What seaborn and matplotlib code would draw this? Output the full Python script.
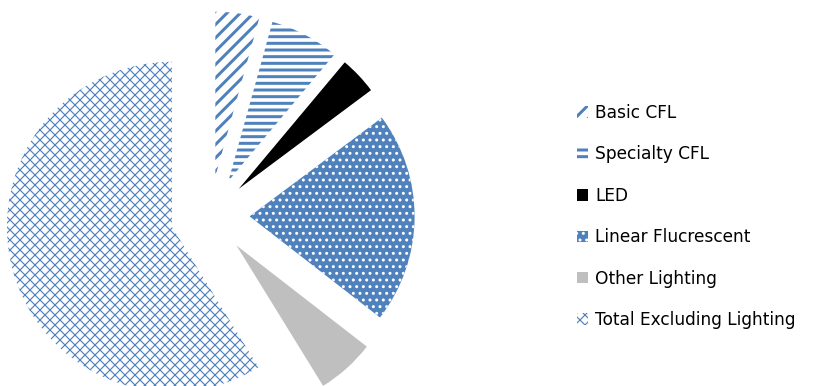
import matplotlib
matplotlib.use('Agg')
import matplotlib.pyplot as plt
import seaborn as sns

categories = ['Basic CFL', 'Specialty CFL', 'LED', 'Linear Flucrescent',
              'Other Lighting', 'Total Excluding Lighting']
shares = [4.3, 6.8, 3.7, 20.7, 5.7, 58.8]

BLUE = '#4F81BD'
GRAY = '#BFBFBF'

sns.set_theme(style='white')
plt.rcParams['font.family'] = ['DejaVu Sans']

W, H, DPI = 815, 386, 120
fig = plt.figure(figsize=(W / DPI, H / DPI), dpi=DPI)
ax = fig.add_axes([0, 0, 1, 1])

R, CX, CY = 165.0, 210.0, 216.0
explode = [0.24] * len(shares)

wedges, _ = ax.pie(shares, explode=explode, startangle=90, counterclock=False,
                   radius=1, wedgeprops=dict(linewidth=0))

styles = [
    dict(facecolor='white', edgecolor=BLUE, hatch='///', hlw=1.8),
    dict(facecolor='white', edgecolor=BLUE, hatch='---', hlw=1.8),
    dict(facecolor='black', edgecolor='black', hatch=None, hlw=1.0),
    dict(facecolor=BLUE, edgecolor='white', hatch='...', hlw=1.0),
    dict(facecolor=GRAY, edgecolor=GRAY, hatch=None, hlw=1.0),
    dict(facecolor='white', edgecolor=BLUE, hatch='xxxx', hlw=0.7),
]
has_hlw = hasattr(wedges[0], 'set_hatch_linewidth')
for w, st in zip(wedges, styles):
    w.set_facecolor(st['facecolor'])
    w.set_edgecolor(st['edgecolor'])
    w.set_linewidth(0)
    if st['hatch']:
        w.set_hatch(st['hatch'])
    if has_hlw:
        w.set_hatch_linewidth(st['hlw'])

ax.set_xlim(-CX / R, (W - CX) / R)
ax.set_ylim(-(H - CY) / R, CY / R)
ax.set_aspect('auto')
ax.axis('off')

leg = ax.legend(wedges, categories, loc='center left',
                bbox_to_anchor=(577 / W, 1 - 216.5 / H), bbox_transform=fig.transFigure,
                frameon=False, fontsize=10.2, handlelength=0.66, handleheight=0.66,
                handletextpad=0.42, labelspacing=1.38, borderpad=0, borderaxespad=0,
                labelcolor='black')
if has_hlw:
    for h, st in zip(leg.legend_handles, styles):
        h.set_hatch_linewidth(st['hlw'])

fig.savefig('out.png', dpi=DPI)
